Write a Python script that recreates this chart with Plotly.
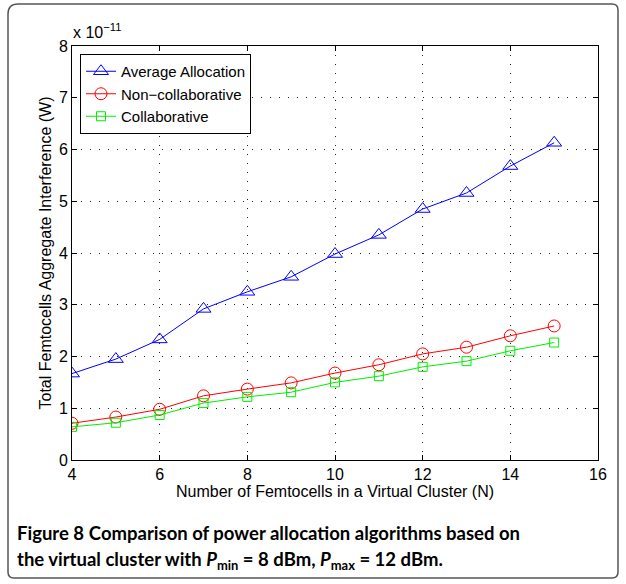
import plotly.graph_objects as go

n_femto = [4, 5, 6, 7, 8, 9, 10, 11, 12, 13, 14, 15]
avg_alloc = [1.67, 1.95, 2.33, 2.92, 3.25, 3.54, 3.98, 4.35, 4.85, 5.16, 5.68, 6.13]
non_collab = [0.71, 0.83, 0.98, 1.24, 1.37, 1.49, 1.68, 1.84, 2.05, 2.18, 2.40, 2.59]
collab = [0.64, 0.72, 0.87, 1.10, 1.22, 1.31, 1.50, 1.62, 1.80, 1.91, 2.11, 2.27]

W, H = 626, 584
L, R, T, B = 72, 28, 46, 124
pw, ph = W - L - R, H - T - B

def px(x):
    return (x - L) / pw

def py(y):
    return (H - B - y) / ph

fig = go.Figure()
fig.add_trace(go.Scatter(x=n_femto, y=avg_alloc, name="Average Allocation", mode="lines+markers",
                         line=dict(color="#0000ff", width=1),
                         marker=dict(symbol="triangle-up-open", size=13, color="#0000ff", line=dict(width=1))))
fig.add_trace(go.Scatter(x=n_femto, y=non_collab, name="Non\u2212collaborative", mode="lines+markers",
                         line=dict(color="#ff0000", width=1),
                         marker=dict(symbol="circle-open", size=12, color="#ff0000", line=dict(width=1))))
fig.add_trace(go.Scatter(x=n_femto, y=collab, name="Collaborative", mode="lines+markers",
                         line=dict(color="#00ee00", width=1),
                         marker=dict(symbol="square-open", size=9, color="#00ee00", line=dict(width=1))))

FS = 16
axis_common = dict(showline=True, linecolor="black", linewidth=1, mirror="ticks",
                   ticks="inside", ticklen=5, tickcolor="black", automargin=False,
                   showgrid=True, gridcolor="#222222", griddash="1px,8px", gridwidth=1,
                   zeroline=False, tickfont=dict(family="Liberation Sans", size=FS, color="black"))

fig.update_xaxes(range=[4, 16], dtick=2, tick0=4,
                 title=dict(text="Number of Femtocells in a Virtual Cluster (N)", standoff=1,
                            font=dict(family="Liberation Sans", size=FS, color="black")),
                 **axis_common)
fig.update_yaxes(range=[0, 8], dtick=1, tick0=0,
                 title=dict(text="Total Femtocells Aggregate Interference (W)", standoff=3,
                            font=dict(family="Liberation Sans", size=FS, color="black")),
                 **axis_common)

path = (f"M {px(18)} {py(4)} L {px(612)} {py(4)} Q {px(618)} {py(4)} {px(618)} {py(10)} "
        f"L {px(618)} {py(572)} Q {px(618)} {py(578)} {px(612)} {py(578)} "
        f"L {px(14)} {py(578)} Q {px(8)} {py(578)} {px(8)} {py(572)} "
        f"L {px(8)} {py(14)} Q {px(8)} {py(4)} {px(18)} {py(4)} Z")

fig.update_layout(
    width=W, height=H,
    margin=dict(l=L, r=R, t=T, b=B),
    paper_bgcolor="white", plot_bgcolor="white",
    font=dict(family="Liberation Sans", color="black"),
    legend=dict(x=px(80), y=py(54), xanchor="left", yanchor="top",
                bgcolor="white", bordercolor="black", borderwidth=1,
                font=dict(family="Liberation Sans", size=15, color="black"),
                tracegroupgap=0, itemwidth=30),
    shapes=[dict(type="path", xref="paper", yref="paper", path=path,
                 line=dict(color="#555555", width=1.5), layer="below")],
    annotations=[
        dict(text="x 10<sup>\u221211</sup>", x=px(71), y=py(31), xref="paper", yref="paper",
             xanchor="left", yanchor="middle", showarrow=False,
             font=dict(family="Liberation Sans", size=FS, color="black")),
        dict(text="<b>Figure 8</b> <b>Comparison of power allocation algorithms based on</b>",
             x=px(15), y=py(533), xref="paper", yref="paper", xanchor="left", yanchor="middle",
             showarrow=False, font=dict(family="Lato", size=18.5, color="black")),
        dict(text="<b>the virtual cluster with <i>P</i><sub>min</sub> = 8 dBm, <i>P</i><sub>max</sub> = 12 dBm.</b>",
             x=px(15), y=py(560), xref="paper", yref="paper", xanchor="left", yanchor="middle",
             showarrow=False, font=dict(family="Lato", size=18.5, color="black")),
    ],
)

fig.write_html("out.html", config={"displayModeBar": False})

with open("out.html", "r", encoding="utf-8") as f:
    html = f.read()
html = html.replace("<head>", "<head><style>html,body{margin:0;padding:0;overflow:hidden;}</style>", 1)
with open("out.html", "w", encoding="utf-8") as f:
    f.write(html)
